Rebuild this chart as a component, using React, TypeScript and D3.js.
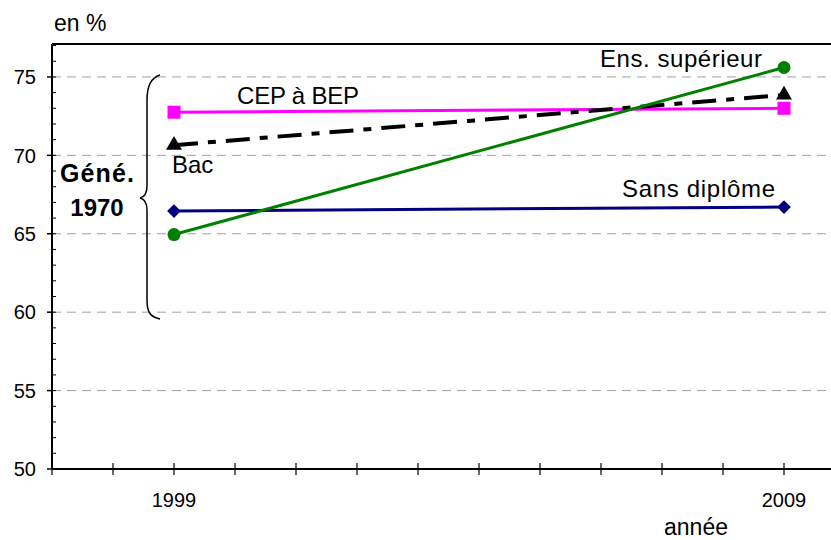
import React from "react";
import * as d3 from "d3";

const years = [1999, 2009];
const sansDiplome = [66.45, 66.7];
const cepBep = [72.75, 73.0];
const bac = [70.65, 73.85];
const ensSup = [64.95, 75.6];
const yMajorTicks = [50, 55, 60, 65, 70, 75];
const xLabelYears = [1999, 2009];

const W = 831, H = 540;
const left = 52, top = 44, bottom = 469;

export default function App() {
  const x = d3.scaleLinear().domain([1997, 2009]).range([left, 784]);
  const y = d3.scaleLinear().domain([50, 77.1]).range([bottom, top]);
  const line = d3.line<[number, number]>().x(d => x(d[0])).y(d => y(d[1]));
  const pts = (vals: number[]) => years.map((yr, i) => [yr, vals[i]] as [number, number]);
  const minorY = d3.range(50, 78, 1);
  const xTicks = d3.range(1997, 2011, 1);
  const font = "Arial, 'Liberation Sans', sans-serif";
  const sym = (type: d3.SymbolType, size: number) => d3.symbol().type(type).size(size)() as string;

  return (
    <svg width={W} height={H} style={{ position: "absolute", left: 0, top: 0, background: "#fff" }} fontFamily={font}>
      {/* gridlines */}
      {yMajorTicks.filter(v => v > 50).map(v => (
        <line key={"g" + v} x1={left} x2={W} y1={y(v)} y2={y(v)} stroke="#a0a0a0" strokeWidth={1} strokeDasharray="9,6" />
      ))}
      {/* top border */}
      <line x1={left} x2={W} y1={top} y2={top} stroke="#000" strokeWidth={2} />
      {/* y axis */}
      <line x1={left} x2={left} y1={top} y2={bottom} stroke="#000" strokeWidth={2} />
      {minorY.map(v => (
        <line key={"m" + v} x1={left} x2={left + 4} y1={y(v)} y2={y(v)} stroke="#000" strokeWidth={1} />
      ))}
      {yMajorTicks.map(v => (
        <g key={"t" + v}>
          <line x1={left - 5} x2={left} y1={y(v)} y2={y(v)} stroke="#000" strokeWidth={1.5} />
          <text x={36} y={y(v)} dy="0.36em" textAnchor="end" fontSize={20}>{v}</text>
        </g>
      ))}
      {/* x axis */}
      <line x1={left} x2={W} y1={bottom} y2={bottom} stroke="#000" strokeWidth={2} />
      {xTicks.map(v => (
        <line key={"x" + v} x1={x(v)} x2={x(v)} y1={bottom - 6} y2={bottom + 6} stroke="#000" strokeWidth={1.2} />
      ))}
      {xLabelYears.map(v => (
        <text key={"xl" + v} x={x(v)} y={507} textAnchor="middle" fontSize={20}>{v}</text>
      ))}
      <text x={696} y={535} textAnchor="middle" fontSize={23}>année</text>
      <text x={54} y={31} fontSize={23}>en %</text>

      {/* series */}
      <path d={line(pts(sansDiplome)) as string} fill="none" stroke="#000080" strokeWidth={3} />
      <path d={line(pts(cepBep)) as string} fill="none" stroke="#ff00ff" strokeWidth={3} />
      <path d={line(pts(bac)) as string} fill="none" stroke="#000" strokeWidth={4} strokeDasharray="24,10,8,10" />
      <path d={line(pts(ensSup)) as string} fill="none" stroke="#008000" strokeWidth={3} />

      {pts(sansDiplome).map((p, i) => (
        <path key={"sd" + i} d={sym(d3.symbolDiamond2, 120)} transform={`translate(${x(p[0])},${y(p[1])})`} fill="#000080" />
      ))}
      {pts(cepBep).map((p, i) => (
        <rect key={"cb" + i} x={x(p[0]) - 6.5} y={y(p[1]) - 6.5} width={13} height={13} fill="#ff00ff" />
      ))}
      {pts(bac).map((p, i) => (
        <path key={"bc" + i} d={sym(d3.symbolTriangle, 110)} transform={`translate(${x(p[0])},${y(p[1])})`} fill="#000" />
      ))}
      {pts(ensSup).map((p, i) => (
        <circle key={"es" + i} cx={x(p[0])} cy={y(p[1])} r={6.5} fill="#008000" />
      ))}

      {/* labels */}
      <text x={237} y={104} fontSize={24} textLength={122} lengthAdjust="spacing">CEP à BEP</text>
      <text x={172} y={173} fontSize={24}>Bac</text>
      <text x={600} y={67} fontSize={24} textLength={162} lengthAdjust="spacing">Ens. supérieur</text>
      <text x={622} y={197} fontSize={24} textLength={153} lengthAdjust="spacing">Sans diplôme</text>
      <text x={60} y={182} fontSize={25} fontWeight="bold" textLength={74} lengthAdjust="spacing">Géné.</text>
      <text x={97} y={216} textAnchor="middle" fontSize={24} fontWeight="bold">1970</text>

      {/* brace */}
      <path d="M160,75 C150,78 147,88 147,100 L147,186 C147,194 144,197 140,198 C144,199 147,203 147,210 L147,300 C147,312 150,317 160,319" fill="none" stroke="#000" strokeWidth={1.5} />
    </svg>
  );
}
